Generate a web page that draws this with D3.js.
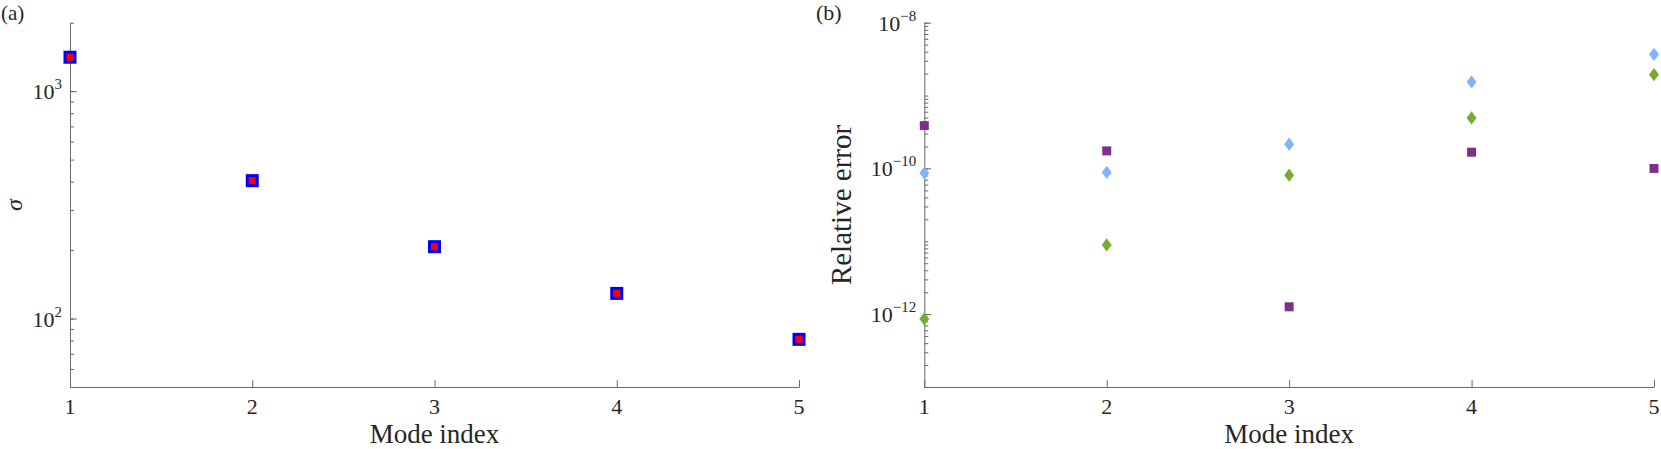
<!DOCTYPE html>
<html lang="en">
<head>
<meta charset="utf-8">
<script src="https://cdn.jsdelivr.net/npm/d3@7"></script>
<style>
  body { margin: 0; background: #fff; }
  text { font-family: "Liberation Serif", "Times New Roman", serif; fill: #262626; }
</style>
</head>
<body>
<div id="chart"></div>
<script>
// ---- data ----
var modes = [1, 2, 3, 4, 5];
var sigma = [1410, 404, 207, 129, 81];

var errSquare = [3.87e-10, 1.74e-10, 1.26e-12, 1.67e-10, 1.0e-10];   // purple squares
var errBlue   = [8.65e-11, 8.8e-11, 2.15e-10, 1.54e-9, 3.68e-9];     // light blue diamonds
var errGreen  = [8.6e-13, 8.9e-12, 8.07e-11, 4.93e-10, 1.94e-9];     // green diamonds

var xTicks = [1, 2, 3, 4, 5];
var leftMajor = [100, 1000];
var leftMajorExp = ["2", "3"];
var rightMajor = [1e-12, 1e-10, 1e-8];
var rightMajorExp = ["\u221212", "\u221210", "\u22128"];

var width = 1661, height = 449;
var svg = d3.select("#chart").append("svg")
    .attr("width", width)
    .attr("height", height);

var axisColor = "#6a6a6a";

// custom diamond (MATLAB style, a bit wider than d3's)
var diamond = {
  draw: function(ctx, size) {
    var h = Math.sqrt(size) * 0.58, w = h * 0.75;
    ctx.moveTo(0, -h); ctx.lineTo(w, 0); ctx.lineTo(0, h); ctx.lineTo(-w, 0); ctx.closePath();
  }
};

function minorTicks(lo, hi) {
  var out = [];
  var e0 = Math.floor(Math.log10(lo)), e1 = Math.ceil(Math.log10(hi));
  for (var e = e0; e <= e1; e++) {
    for (var k = 1; k <= 9; k++) {
      var v = k * Math.pow(10, e);
      if (v >= lo * 0.999 && v <= hi * 1.001) out.push(v);
    }
  }
  return out;
}

function panel(opts) {
  var x = d3.scaleLinear().domain([1, 5]).range([opts.left, opts.right]);
  var y = d3.scaleLog().domain(opts.ydomain).range([opts.bottom, opts.top]);
  var g = svg.append("g");

  // minor y ticks
  g.append("g")
    .attr("transform", "translate(" + opts.left + ",0)")
    .call(d3.axisLeft(y).tickValues(minorTicks(opts.ydomain[0], opts.ydomain[1])).tickSize(-4).tickFormat(""))
    .call(function(s) { s.select(".domain").remove(); });

  // major y ticks + axis line
  var ya = g.append("g")
    .attr("transform", "translate(" + opts.left + ",0)")
    .call(d3.axisLeft(y).tickValues(opts.major).tickSizeInner(-7).tickSizeOuter(0).tickFormat(""));
  ya.selectAll("line, path").attr("stroke", axisColor);

  // x axis
  var xa = g.append("g")
    .attr("transform", "translate(0," + opts.bottom + ")")
    .call(d3.axisBottom(x).tickValues(xTicks).tickSizeInner(-7).tickSizeOuter(0).tickFormat(""));
  xa.selectAll("line, path").attr("stroke", axisColor);
  g.selectAll(".tick line").attr("stroke", axisColor);

  // x tick labels
  g.selectAll(".xl").data(xTicks).enter().append("text")
    .attr("x", function(d) { return x(d); })
    .attr("y", opts.bottom + 27)
    .attr("text-anchor", "middle")
    .style("font-size", "22px")
    .text(function(d) { return d; });

  // y tick labels 10^n
  opts.major.forEach(function(v, i) {
    var t = g.append("text")
      .attr("x", opts.left - 8)
      .attr("y", y(v) + 8)
      .attr("text-anchor", "end")
      .style("font-size", "22px");
    t.append("tspan").text("10");
    t.append("tspan").attr("dy", -10).style("font-size", "15px").text(opts.exps[i]);
  });

  // x label
  g.append("text")
    .attr("x", (opts.left + opts.right) / 2)
    .attr("y", 443)
    .attr("text-anchor", "middle")
    .style("font-size", "27px")
    .text("Mode index");

  return { g: g, x: x, y: y };
}

// ---- panel (a) ----
var a = panel({ left: 70, right: 799, top: 22.7, bottom: 387, ydomain: [50, 2000],
                major: leftMajor, exps: leftMajorExp });

a.g.selectAll(".outer").data(modes).enter().append("path")
  .attr("transform", function(d, i) { return "translate(" + a.x(d) + "," + a.y(sigma[i]) + ")"; })
  .attr("d", d3.symbol().type(d3.symbolSquare).size(13 * 13))
  .attr("fill", "#0000ff");
a.g.selectAll(".inner").data(modes).enter().append("path")
  .attr("transform", function(d, i) { return "translate(" + a.x(d) + "," + a.y(sigma[i]) + ")"; })
  .attr("d", d3.symbol().type(d3.symbolSquare).size(7 * 7))
  .attr("fill", "#ff0000");

a.g.append("text")
  .attr("transform", "translate(14,205) rotate(-90)")
  .attr("text-anchor", "middle")
  .attr("dominant-baseline", "central")
  .style("font-size", "24px")
  .style("font-style", "italic")
  .text("\u03c3");

svg.append("text").attr("x", 1).attr("y", 20).style("font-size", "21px").text("(a)");

// ---- panel (b) ----
var b = panel({ left: 924.3, right: 1654, top: 22.7, bottom: 387, ydomain: [1e-13, 1e-8],
                major: rightMajor, exps: rightMajorExp });

b.g.selectAll(".sq").data(modes).enter().append("path")
  .attr("transform", function(d, i) { return "translate(" + b.x(d) + "," + b.y(errSquare[i]) + ")"; })
  .attr("d", d3.symbol().type(d3.symbolSquare).size(9 * 9))
  .attr("fill", "#7e2f8e");
b.g.selectAll(".db").data(modes).enter().append("path")
  .attr("transform", function(d, i) { return "translate(" + b.x(d) + "," + b.y(errBlue[i]) + ")"; })
  .attr("d", d3.symbol().type(diamond).size(130))
  .attr("fill", "#80b3ff");
b.g.selectAll(".dg").data(modes).enter().append("path")
  .attr("transform", function(d, i) { return "translate(" + b.x(d) + "," + b.y(errGreen[i]) + ")"; })
  .attr("d", d3.symbol().type(diamond).size(130))
  .attr("fill", "#77ac30");

b.g.append("text")
  .attr("transform", "translate(851,205) rotate(-90)")
  .attr("text-anchor", "middle")
  .style("font-size", "29px")
  .text("Relative error");

svg.append("text").attr("x", 816).attr("y", 20).style("font-size", "22px").text("(b)");
</script>
</body>
</html>
